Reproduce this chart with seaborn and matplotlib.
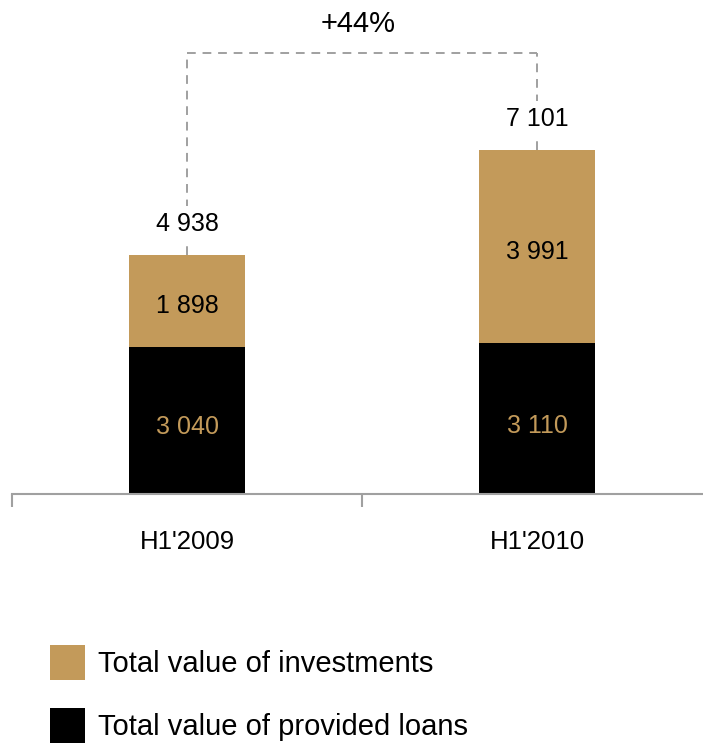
import matplotlib
matplotlib.use("Agg")
import matplotlib.pyplot as plt
from matplotlib.patches import Patch
import seaborn as sns
import pandas as pd

periods = ["H1'2009", "H1'2010"]
loans = [3040, 3110]
investments = [1898, 3991]
growth_label = "+44%"
legend_labels = ["Total value of investments", "Total value of provided loans"]

TAN = "#C39A5A"
GREY = "#A0A0A0"

def fmt(v):
    return f"{v:,}".replace(",", " ")

df = pd.DataFrame({"period": periods, "loans": loans, "investments": investments})
df["total"] = df["loans"] + df["investments"]

sns.set_theme(style="white")
plt.rcParams["font.family"] = ["Liberation Sans", "DejaVu Sans"]
plt.rcParams["text.color"] = "black"

fig = plt.figure(figsize=(7.03, 7.44), dpi=100)
ax = fig.add_axes([12 / 703, 250 / 744, 700 / 703, 494 / 744])

bw = 0.33
sns.barplot(data=df, x="period", y="total", color=TAN, width=bw,
            saturation=1, linewidth=0, ax=ax, zorder=2)
sns.barplot(data=df, x="period", y="loans", color="black", width=bw,
            saturation=1, linewidth=0, ax=ax, zorder=3)

ax.set_xlim(-0.5, 1.5)
ax.set_ylim(0, 10196)
ax.set_xlabel("")
ax.set_ylabel("")
ax.set_yticks([])
for s in ["left", "right", "top"]:
    ax.spines[s].set_visible(False)
ax.spines["bottom"].set_color(GREY)
ax.spines["bottom"].set_linewidth(1.5)
ax.spines["bottom"].set_zorder(4)

ax.set_xticks([0, 1])
ax.set_xticklabels(periods)
ax.set_xticks([-0.5, 0.5, 1.5], minor=True)
ax.tick_params(axis="x", which="major", length=0, pad=26, labelsize=18.5,
               labelcolor="black")
ax.tick_params(axis="x", which="minor", bottom=True, length=9, width=1.5,
               color=GREY, direction="out")

# segment labels, centred in each stacked segment
for i, row in df.iterrows():
    ax.annotate(fmt(row["loans"]), (i, row["loans"] / 2), xytext=(0, -5),
                textcoords="offset points", ha="center", va="center",
                color=TAN, fontsize=18, zorder=5)
    ax.annotate(fmt(row["investments"]),
                (i, row["loans"] + row["investments"] / 2), xytext=(0, -4),
                textcoords="offset points", ha="center", va="center",
                color="black", fontsize=18, zorder=5)

# growth bracket
bracket_y = 9102
for i, row in df.iterrows():
    ax.plot([i, i], [row["total"], bracket_y], color=GREY, lw=1.4,
            ls=(0, (4.5, 3.5)), zorder=1, clip_on=False)
ax.plot([0, 1], [bracket_y, bracket_y], color=GREY, lw=1.4,
        ls=(0, (4.5, 3.5)), zorder=1, clip_on=False)

# totals above bars
for i, row in df.iterrows():
    ax.annotate(fmt(row["total"]), (i, row["total"]), xytext=(0, 22),
                textcoords="offset points", ha="center", va="center",
                fontsize=18, color="black", zorder=5,
                bbox=dict(boxstyle="square,pad=0.25", fc="white", ec="none"))

ax.text(0.49, 9700, growth_label, ha="center", va="center", fontsize=21,
        color="black")

handles = [Patch(facecolor=TAN, edgecolor="none"),
           Patch(facecolor="black", edgecolor="none")]
leg = fig.legend(handles, legend_labels, loc="upper left",
                 bbox_to_anchor=(50 / 703, 1 - 645 / 744), frameon=False,
                 fontsize=21, handlelength=1.2, handleheight=1.45,
                 handletextpad=0.45, labelspacing=0.98, borderpad=0,
                 borderaxespad=0)
for t in leg.get_texts():
    t.set_color("black")

fig.savefig("out.png", dpi=100)
